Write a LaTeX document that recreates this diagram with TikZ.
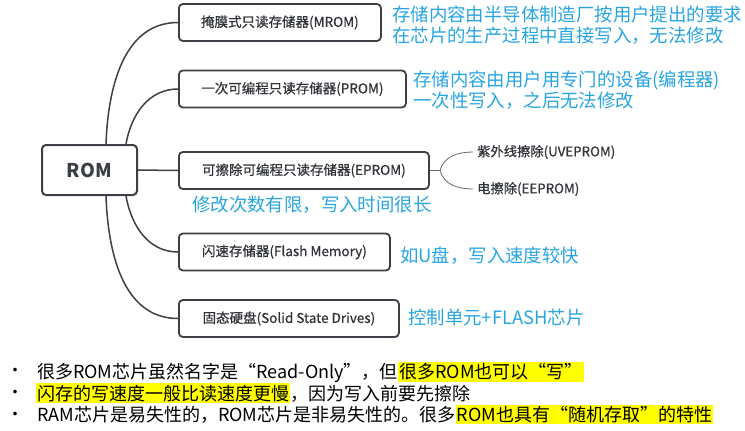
\documentclass[tikz,border=0pt]{standalone}
\usepackage{fontspec}
\setmainfont{Noto Sans CJK SC}
\newfontfamily\boxfont[FakeBold=0.7]{Noto Sans CJK SC}
\usetikzlibrary{positioning}
\definecolor{inkgray}{RGB}{60,64,70}
\definecolor{noteblue}{RGB}{40,165,225}
\definecolor{markyellow}{RGB}{255,255,0}

\begin{document}
\begin{tikzpicture}[x=1pt,y=-1pt,
        rootbox/.style={draw=inkgray, line width=2pt, rounded corners=4pt, text=inkgray, font=\fontsize{19}{22}\selectfont\bfseries, minimum width=95, minimum height=50},
        darkbox/.style={draw=inkgray, line width=1.8pt, rounded corners=4pt, text=inkgray!80!black, font=\boxfont\fontsize{13.5}{15}\selectfont, minimum height=37, anchor=west, inner xsep=0},
        leaf/.style={text=inkgray!80!black, font=\boxfont\fontsize{13.3}{15}\selectfont, anchor=west, inner sep=0},
        bluenote/.style={text=noteblue, font=\fontsize{18.4}{20.5}\selectfont, anchor=west, align=left, inner sep=0},
        bullettext/.style={font=\fontsize{18}{20}\selectfont, inner sep=0, anchor=base west},
        yellowmark/.style={bullettext, fill=markyellow, inner ysep=1.5, inner xsep=1},
        link/.style={draw=inkgray, line width=1.5pt},
        sublink/.style={draw=inkgray!80, line width=0.8pt}
    ]
    \useasboundingbox (0,0) rectangle (745,431);

    % ROM and its five kinds
    \node[rootbox] (rom) at (89.5,170) {ROM};
    \node[darkbox, minimum width=202] (mrom) at (178,22.5) {掩膜式只读存储器(MROM)};
    \node[darkbox, minimum width=227] (prom) at (178,89) {一次可编程只读存储器(PROM)};
    \node[darkbox, minimum width=250] (eprom) at (178,170.5) {可擦除可编程只读存储器(EPROM)};
    \node[darkbox, minimum width=211] (flash) at (178,252) {闪速存储器(Flash Memory)};
    \node[darkbox, minimum width=220] (ssd) at (178,318.5) {固态硬盘(Solid State Drives)};
    \draw[link] ([xshift=-32]rom.north east) to[out=88,in=180] (mrom.west);
    \draw[link] ([xshift=-12]rom.north east) to[out=80,in=180] (prom.west);
    \draw[link] (rom.east) -- (eprom.west);
    \draw[link] ([xshift=-12]rom.south east) to[out=-80,in=180] (flash.west);
    \draw[link] ([xshift=-32]rom.south east) to[out=-88,in=180] (ssd.west);

    % EPROM sub-branches
    \coordinate (fork) at (440,170.5);
    \node[leaf] (uv) at (477,152) {紫外线擦除(UVEPROM)};
    \node[leaf] (ee) at (477,189) {电擦除(EEPROM)};
    \draw[sublink] (eprom.east) -- (fork);
    \draw[sublink] (fork) to[out=75,in=180] ([xshift=-4]uv.west);
    \draw[sublink] (fork) to[out=-75,in=180] ([xshift=-4]ee.west);

    % notes
    \node[bluenote] (mromnote) at (392,25) {存储内容由半导体制造厂按用户提出的要求\\在芯片的生产过程中直接写入，无法修改};
    \node[bluenote] (promnote) at (413,90) {存储内容由用户用专门的设备(编程器)\\一次性写入，之后无法修改};
    \node[bluenote] (epromnote) at (192,205) {修改次数有限，写入时间很长};
    \node[bluenote] (flashnote) at (400,256) {如U盘，写入速度较快};
    \node[bluenote] (ssdnote) at (408,318) {控制单元+FLASH芯片};

    % bullet list
    \node[font=\fontsize{17}{19}\selectfont] (dot1) at (15,372) {•};
    \node[font=\fontsize{17}{19}\selectfont] (dot2) at (15,394) {•};
    \node[font=\fontsize{17}{19}\selectfont] (dot3) at (15,416) {•};
    \node[bullettext] (line1a) at (37,378.5) {很多ROM芯片虽然名字是“Read-Only”，但};
    \node[yellowmark] (line1b) at (line1a.base east) {很多ROM也可以“写”};
    \node[yellowmark] (line2a) at (36,400) {闪存的写速度一般比读速度更慢};
    \node[bullettext] (line2b) at (line2a.base east) {，因为写入前要先擦除};
    \node[bullettext] (line3a) at (37,421.5) {RAM芯片是易失性的，ROM芯片是非易失性的。很多};
    \node[yellowmark] (line3b) at (line3a.base east) {ROM也具有“随机存取”的特性};
\end{tikzpicture}
\end{document}
